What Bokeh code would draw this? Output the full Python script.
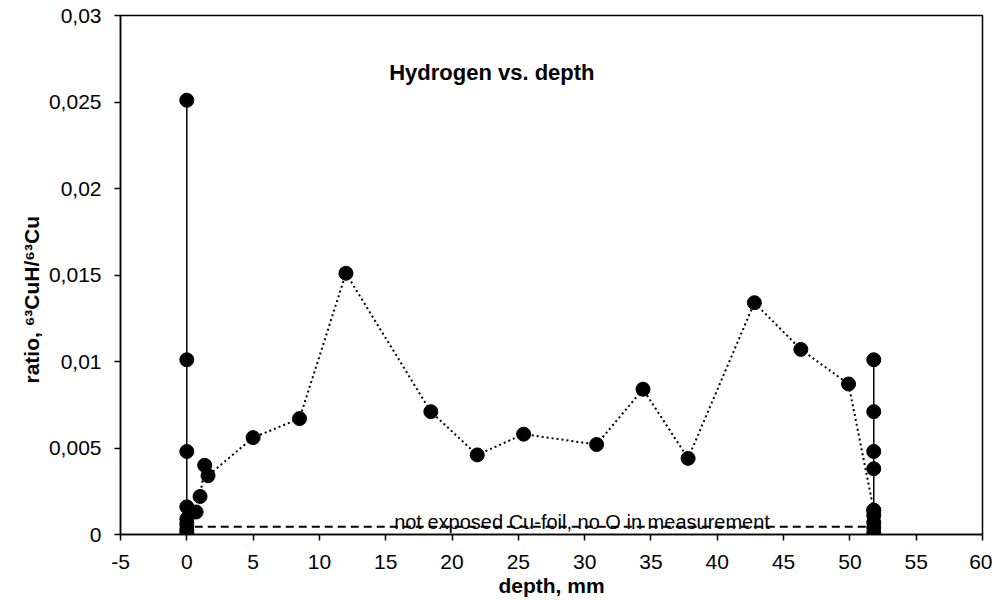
from bokeh.plotting import figure
from bokeh.models import Range1d, FixedTicker, CustomJSTickFormatter, Label, Title
from bokeh.embed import file_html
from bokeh.resources import INLINE

# ---- data ----
left_depth = [0.0, 0.0, 0.0, 0.0, 0.0, 0.0, 0.0, 0.0]
left_ratio = [0.0001, 0.0003, 0.0006, 0.0009, 0.0016, 0.0048, 0.0101, 0.0251]

right_depth = [51.8, 51.8, 51.8, 51.8, 51.8, 51.8, 51.8, 51.8, 51.8]
right_ratio = [0.0001, 0.0004, 0.0007, 0.0011, 0.0014, 0.0038, 0.0048, 0.0071, 0.0101]

profile_depth = [0.7, 1.0, 1.35, 1.6, 5.0, 8.5, 12.0, 18.4, 21.9, 25.4, 30.9,
                 34.4, 37.8, 42.8, 46.3, 49.9, 51.8]
profile_ratio = [0.0013, 0.0022, 0.0040, 0.0034, 0.0056, 0.0067, 0.0151, 0.0071,
                 0.0046, 0.0058, 0.0052, 0.0084, 0.0044, 0.0134, 0.0107, 0.0087, 0.0014]

ref_depth = [0.6, 51.8]
ref_ratio = [0.00045, 0.00045]
ref_text = "not exposed Cu-foil, no O in measurement"

title_text = "Hydrogen vs. depth"
x_label = "depth, mm"
y_label = "ratio, \u2076\u00b3CuH/\u2076\u00b3Cu"

x_ticks = [-5, 0, 5, 10, 15, 20, 25, 30, 35, 40, 45, 50, 55, 60]
y_ticks = [0, 0.005, 0.01, 0.015, 0.02, 0.025, 0.03]

FONT = "Liberation Sans"

p = figure(width=992, height=600, output_backend="svg", toolbar_location=None,
           x_range=Range1d(-5, 60), y_range=Range1d(0, 0.03),
           min_border_left=120, min_border_right=10, min_border_top=15,
           min_border_bottom=66)
p.grid.visible = False
p.outline_line_color = "black"
p.outline_line_width = 1.5
p.background_fill_color = "white"
p.border_fill_color = "white"

for ax in (p.xaxis[0], p.yaxis[0]):
    ax.axis_line_color = "black"
    ax.axis_line_width = 1.5
    ax.major_tick_line_color = "black"
    ax.major_tick_line_width = 1.5
    ax.major_tick_out = 6
    ax.major_tick_in = 0
    ax.minor_tick_line_color = None
    ax.major_label_text_font = FONT
    ax.major_label_text_font_size = "21px"
    ax.major_label_text_color = "black"
    ax.axis_label_text_font = FONT
    ax.axis_label_text_font_style = "bold"
    ax.axis_label_text_font_size = "21px"
    ax.axis_label_text_color = "black"

p.xaxis.major_label_standoff = 14
p.yaxis.major_label_standoff = 13
p.xaxis.ticker = FixedTicker(ticks=x_ticks)
p.yaxis.ticker = FixedTicker(ticks=y_ticks)
p.xaxis.formatter = CustomJSTickFormatter(code="return String(tick);")
p.yaxis.formatter = CustomJSTickFormatter(
    code="return tick.toFixed(3).replace(/\\.?0+$/, '').replace('.', ',');")
p.xaxis.axis_label = x_label
p.xaxis.axis_label_standoff = 2

# y-axis title as a side title, started part-way up the axis
p.add_layout(Title(text=y_label, align="left", offset=151, standoff=6,
                   text_font=FONT, text_font_style="bold",
                   text_font_size="21px", text_color="black"), "left")

# lines
p.line(left_depth, left_ratio, line_color="black", line_width=1.5)
p.line(right_depth, right_ratio, line_color="black", line_width=1.5)
p.line(profile_depth, profile_ratio, line_color="black", line_width=2,
       line_dash="2 3")
p.line(ref_depth, ref_ratio, line_color="black", line_width=2, line_dash="8 5")

# markers
for xs, ys in ((profile_depth, profile_ratio), (left_depth, left_ratio),
               (right_depth, right_ratio)):
    p.scatter(xs, ys, marker="circle", size=14, fill_color="black",
              line_color="black")

p.add_layout(Label(x=29.8, y=0.00075, text=ref_text, text_align="center",
                   text_baseline="alphabetic", text_font=FONT,
                   text_font_size="20px", text_color="black"))
p.add_layout(Label(x=23, y=0.0267, text=title_text, text_align="center",
                   text_baseline="alphabetic", text_font=FONT,
                   text_font_style="bold", text_font_size="22px",
                   text_color="black"))

open("out.html", "w").write(file_html(p, INLINE))
